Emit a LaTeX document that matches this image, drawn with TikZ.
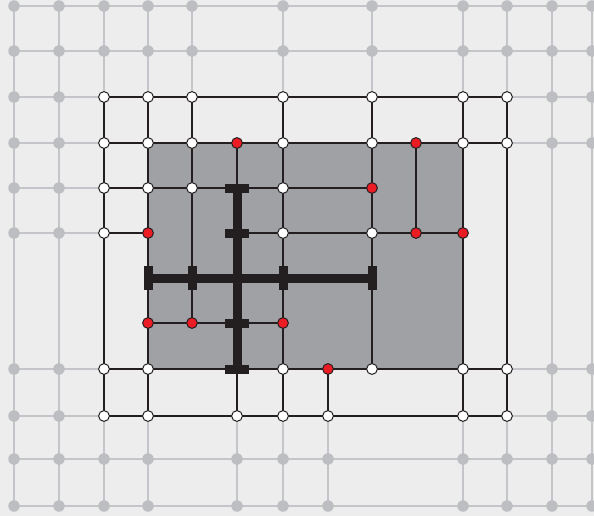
\documentclass[tikz,border=0pt]{standalone}
\definecolor{bgc}{HTML}{EDEDED}
\definecolor{rectc}{HTML}{A0A1A5}
\definecolor{glc}{HTML}{C4C5C8}
\definecolor{gdc}{HTML}{BDBEC2}
\definecolor{blk}{HTML}{231F20}
\definecolor{redc}{HTML}{EC1C24}
\tikzset{
  gline/.style={glc,line width=1.5pt},
  bline/.style={blk,line width=2.4pt},
  thickbar/.style={blk,line width=9pt},
  gdot/.style={circle,fill=gdc,draw=none,minimum size=11.5pt,inner sep=0pt},
  wdot/.style={circle,fill=white,draw=blk,line width=1pt,minimum size=10.8pt,inner sep=0pt},
  rdot/.style={circle,fill=redc,draw=blk,line width=1pt,minimum size=10.8pt,inner sep=0pt},
  vcap/.style={fill=blk,draw=none,minimum width=9pt,minimum height=24pt,inner sep=0pt,rectangle},
  hcap/.style={fill=blk,draw=none,minimum width=24pt,minimum height=9pt,inner sep=0pt,rectangle}
}
\begin{document}
\begin{tikzpicture}[x=1pt,y=-1pt]
\useasboundingbox (0,0) rectangle (594,516);
\fill[bgc] (0,0) rectangle (594,516);
% grid coordinates
\foreach \n/\x in {A/14,B/59,C/104,D/148,E/192,F/237,G/283,H/328,I/372,J/416,K/463,L/507,M/552,N/592}{
  \foreach \m/\y in {1/6,2/51,3/97,4/143,5/188,6/233,7/278,8/323,9/369,10/416,11/459,12/506}{
    \coordinate (\n\m) at (\x,\y);
  }
}
% gray grid lines
\foreach \r in {1,2,11,12} \draw[gline] (A\r) -- (N\r);
\foreach \c in {A,B,M,N} \draw[gline] (\c1) -- (\c12);
\foreach \c in {C,D,E,G,I,K,L} \draw[gline] (\c1) -- (\c3);
\foreach \c in {C,D,F,G,H,K,L} \draw[gline] (\c10) -- (\c12);
\foreach \r in {3,4,5,6,9,10} \draw[gline] (A\r) -- (C\r);
\foreach \r in {3,4,9,10} \draw[gline] (L\r) -- (N\r);
% gray dots
\foreach \r in {1,2} \foreach \c in {A,B,C,D,E,G,I,K,L,M,N} \node[gdot] (g\c\r) at (\c\r) {};
\foreach \r in {11,12} \foreach \c in {A,B,C,D,F,G,H,K,L,M,N} \node[gdot] (g\c\r) at (\c\r) {};
\foreach \r in {3,4,5,6,9,10} \foreach \c in {A,B} \node[gdot] (g\c\r) at (\c\r) {};
\foreach \r in {3,4,9,10} \foreach \c in {M,N} \node[gdot] (g\c\r) at (\c\r) {};
% dark rectangle
\fill[rectc] (D4) rectangle (K9);
% black lines
\draw[bline] (C3) -- (L3);
\draw[bline] (C4) -- (L4);
\draw[bline] (C5) -- (I5);
\draw[bline] (C6) -- (D6);
\draw[bline] (F6) -- (K6);
\draw[bline] (D8) -- (G8);
\draw[bline] (C9) -- (L9);
\draw[bline] (C10) -- (L10);
\draw[bline] (C3) -- (C10);
\draw[bline] (D3) -- (D10);
\draw[bline] (E3) -- (E8);
\draw[bline] (F4) -- (F5);
\draw[bline] (F9) -- (F10);
\draw[bline] (G3) -- (G10);
\draw[bline] (H9) -- (H10);
\draw[bline] (I3) -- (I9);
\draw[bline] (J4) -- (J6);
\draw[bline] (K3) -- (K10);
\draw[bline] (L3) -- (L10);
% thick bars
\draw[thickbar] (D7) -- (I7);
\draw[thickbar] (F5) -- (F9);
\foreach \p in {D7,E7,G7,I7} \node[vcap] (cap\p) at (\p) {};
\foreach \p in {F5,F6,F8,F9} \node[hcap] (cap\p) at (\p) {};
% dots
\foreach \p in {C3,D3,E3,G3,I3,K3,L3,C4,D4,E4,G4,I4,K4,L4,C5,D5,E5,G5,C6,G6,I6,C9,D9,G9,I9,K9,L9,C10,D10,F10,G10,H10,K10,L10}
  \node[wdot] (w\p) at (\p) {};
\foreach \p in {F4,J4,I5,D6,J6,K6,D8,E8,G8,H9}
  \node[rdot] (r\p) at (\p) {};
\end{tikzpicture}
\end{document}
